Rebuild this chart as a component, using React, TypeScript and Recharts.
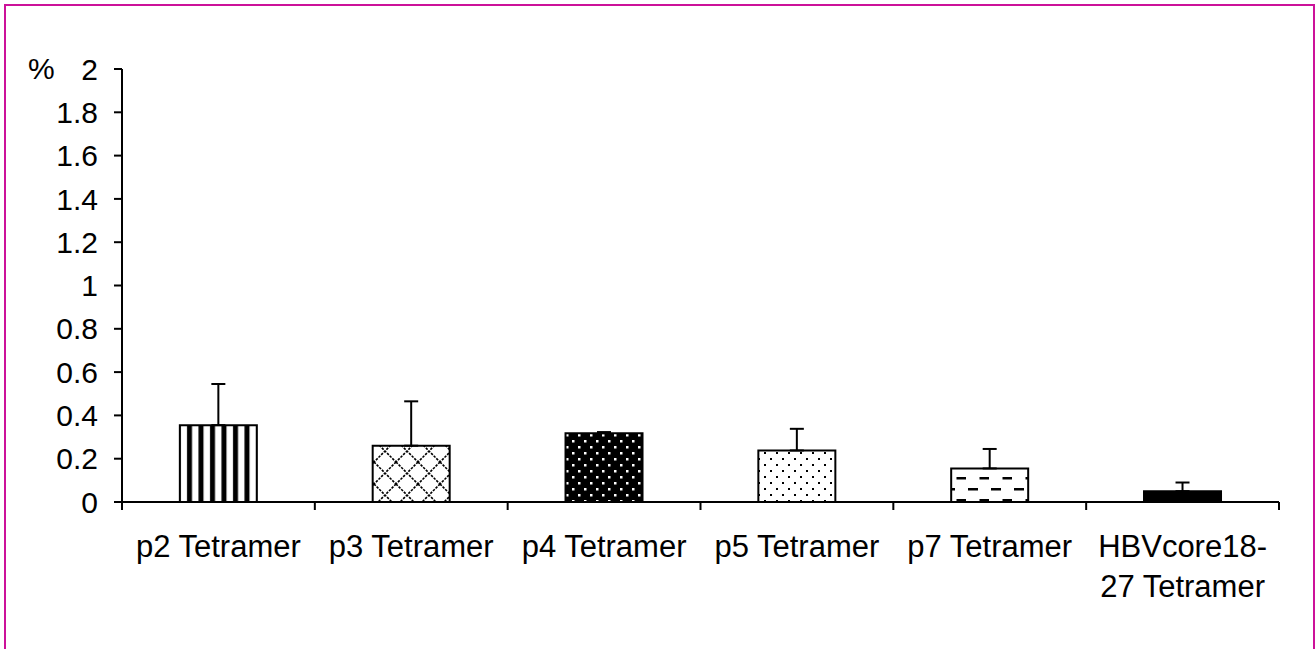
import { BarChart, Bar, XAxis, YAxis, ErrorBar, Cell } from 'recharts';

const categories = ['p2 Tetramer', 'p3 Tetramer', 'p4 Tetramer', 'p5 Tetramer', 'p7 Tetramer', 'HBVcore18-27 Tetramer'];
const tickLabels = [['p2 Tetramer'], ['p3 Tetramer'], ['p4 Tetramer'], ['p5 Tetramer'], ['p7 Tetramer'], ['HBVcore18-', '27 Tetramer']];
const means = [0.355, 0.26, 0.318, 0.238, 0.155, 0.05];
const errors = [0.19, 0.205, 0.005, 0.1, 0.09, 0.04];
const yTicks = [0, 0.2, 0.4, 0.6, 0.8, 1, 1.2, 1.4, 1.6, 1.8, 2];
const fills = ['url(#vstripe)', 'url(#lattice)', 'url(#darkdots)', 'url(#lightdots)', 'url(#dashes)', '#000'];

const data = categories.map((name, i) => ({
  name,
  value: means[i],
  err: [0, errors[i]],
}));

const font = '"Liberation Sans", Arial, sans-serif';

// category label plus Excel-style tick marks on the category boundaries
const CatTick = ({ x, y, index, payload }) => {
  const lines = tickLabels[index] || [];
  const half = payload && payload.offset ? payload.offset : 0;
  const last = index === categories.length - 1;
  return (
    <g>
      <line x1={x - half} x2={x - half} y1={y} y2={y + 8} stroke="#000" strokeWidth={2} />
      {last && <line x1={x + half} x2={x + half} y1={y} y2={y + 8} stroke="#000" strokeWidth={2} />}
      <text x={x} y={y} textAnchor="middle" fontSize={31} fontFamily={font} fill="#000">
        {lines.map((l, i) => (
          <tspan key={i} x={x} dy={i === 0 ? 55 : 40}>{l}</tspan>
        ))}
      </text>
    </g>
  );
};

export default function App() {
  return (
    <div style={{ position: 'absolute', left: 0, top: 0, width: 1316, height: 649, overflow: 'hidden', background: '#fff' }}>
      <div style={{ position: 'absolute', left: 4, top: 4, width: 1311, height: 720, border: '2px solid #cc1199', boxSizing: 'border-box' }} />
      <div style={{ position: 'absolute', left: 28, top: 52, fontSize: 30, fontFamily: font, color: '#000', lineHeight: '34px' }}>%</div>
      <div style={{ position: 'absolute', left: 0, top: 0 }}>
        <BarChart width={1316} height={649} data={data} margin={{ top: 69, right: 37, left: 0, bottom: 0 }} barCategoryGap="30%">
          <defs>
            <pattern id="vstripe" patternUnits="userSpaceOnUse" width="11.5" height="10">
              <rect width="11.5" height="10" fill="#fff" />
              <rect x="3" width="5" height="10" fill="#000" />
            </pattern>
            <pattern id="lattice" patternUnits="userSpaceOnUse" width="22" height="22">
              <rect width="22" height="22" fill="#fff" />
              <path d="M0 0 L22 22 M22 0 L0 22" stroke="#000" strokeWidth="1.6" strokeDasharray="2.5 1.2" />
            </pattern>
            <pattern id="darkdots" patternUnits="userSpaceOnUse" width="12" height="12">
              <rect width="12" height="12" fill="#000" />
              <rect x="2" y="2" width="2.5" height="2.5" fill="#fff" />
              <rect x="8" y="8" width="2.5" height="2.5" fill="#fff" />
            </pattern>
            <pattern id="lightdots" patternUnits="userSpaceOnUse" width="12" height="12">
              <rect width="12" height="12" fill="#fff" />
              <rect x="2" y="2" width="2" height="2" fill="#000" />
              <rect x="8" y="8" width="2" height="2" fill="#000" />
            </pattern>
            <pattern id="dashes" patternUnits="userSpaceOnUse" width="23" height="22">
              <rect width="23" height="22" fill="#fff" />
              <rect x="2" y="4" width="10" height="2.5" fill="#000" />
              <rect x="13.5" y="15" width="10" height="2.5" fill="#000" />
            </pattern>
          </defs>
          <XAxis
            dataKey="name"
            height={147}
            interval={0}
            tickSize={0}
            tickMargin={0}
            tickLine={false}
            axisLine={{ stroke: '#000', strokeWidth: 2 }}
            tick={<CatTick />}
          />
          <YAxis
            width={122}
            domain={[0, 2]}
            ticks={yTicks}
            interval={0}
            tickSize={8}
            tickMargin={16}
            axisLine={{ stroke: '#000', strokeWidth: 2 }}
            tickLine={{ stroke: '#000', strokeWidth: 2 }}
            tick={{ fill: '#000', fontSize: 30, fontFamily: font }}
          />
          <Bar dataKey="value" stroke="#000" strokeWidth={2} isAnimationActive={false}>
            {data.map((d, i) => (
              <Cell key={d.name} fill={fills[i]} />
            ))}
            <ErrorBar dataKey="err" direction="y" width={7} stroke="#000" strokeWidth={2} />
          </Bar>
        </BarChart>
      </div>
    </div>
  );
}
